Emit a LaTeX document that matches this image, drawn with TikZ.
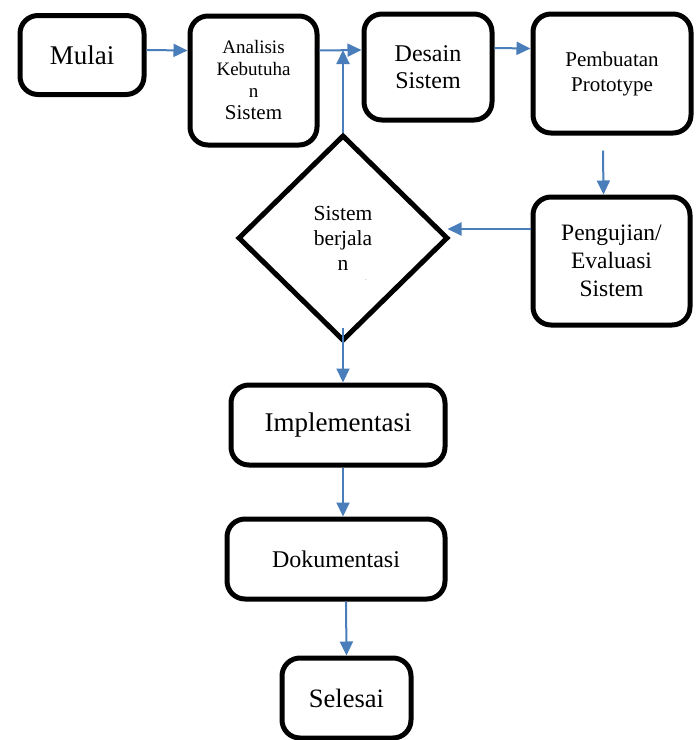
\documentclass[tikz,border=0pt]{standalone}
\usepackage{fontspec}
\setmainfont{Liberation Serif}
\usetikzlibrary{shapes.geometric,arrows.meta}
\definecolor{biru}{RGB}{74,126,187}
\tikzset{
  kotak/.style={draw, rectangle, rounded corners=18pt, line width=5pt, align=center, inner sep=2pt},
  keputusan/.style={draw, diamond, line width=5pt, align=center, inner sep=0pt, minimum width=210pt, minimum height=206pt},
  every edge/.append style={draw=biru}
}
\begin{document}
\begin{tikzpicture} [-> , >= {Triangle[length=14pt, width=13pt]}, line width = 2pt, x = 1pt, y = -1pt]
        \useasboundingbox (0,0) rectangle (700,740);

        \node [kotak, minimum width=124pt, minimum height=79pt, font=\fontsize{27}{32}\selectfont] (mulai) at (82,55) {Mulai};
        \node [kotak, minimum width=127pt, minimum height=129pt, font=\fontsize{19}{22}\selectfont] (analisis) at (253.5,80.5) {Analisis\\Kebutuha\\n\\{\fontsize{21}{22}\selectfont Sistem}};
        \node [kotak, minimum width=128pt, minimum height=106pt, font=\fontsize{24}{27}\selectfont] (desain) at (428,67) {Desain\\Sistem};
        \node [kotak, minimum width=158pt, minimum height=119pt, font=\fontsize{21}{25}\selectfont] (pembuatan) at (612,73.5) {Pembuatan\\Prototype};
        \node [kotak, minimum width=157pt, minimum height=128pt, font=\fontsize{23.5}{28}\selectfont] (pengujian) at (611.5,261) {Pengujian/\\Evaluasi\\Sistem};

        \node [keputusan, font=\fontsize{21.5}{25}\selectfont] (cek) at (343,238) {Sistem\\berjala\\n\rlap{\hspace{17pt}\smash{\raisebox{-10pt}{\fontsize{5}{5}\selectfont .}}}};

        \node [kotak, minimum width=214pt, minimum height=80pt, font=\fontsize{27}{32}\selectfont] (implementasi) at (338,425) {Implementasi};
        \node [kotak, minimum width=218pt, minimum height=80pt, font=\fontsize{24}{28}\selectfont] (dokumentasi) at (336,559) {Dokumentasi};
        \node [kotak, minimum width=129pt, minimum height=80pt, font=\fontsize{26.5}{30}\selectfont] (selesai) at (346.5,698) {Selesai};

        \coordinate (temu) at (343,50);

        \path ([yshift=5pt]mulai.east) edge ([yshift=30pt]analisis.west);
        \path ([yshift=30pt]analisis.east) edge ([yshift=17pt]desain.west);
        \path (cek.north) edge (temu);
        \path ([yshift=19pt]desain.east) edge ([yshift=25pt]pembuatan.west);
        \path ([xshift=-9pt, yshift=-15pt]pembuatan.south) edge ([xshift=-8pt]pengujian.north);
        \path ([yshift=32pt]pengujian.west) edge ([xshift=-3pt, yshift=9pt]cek.east);
        \path ([yshift=16pt]cek.south) edge ([xshift=5pt]implementasi.north);
        \path ([xshift=5pt]implementasi.south) edge ([xshift=7pt]dokumentasi.north);
        \path ([xshift=10pt]dokumentasi.south) edge ([xshift=0pt]selesai.north);

    \end{tikzpicture}
\end{document}
